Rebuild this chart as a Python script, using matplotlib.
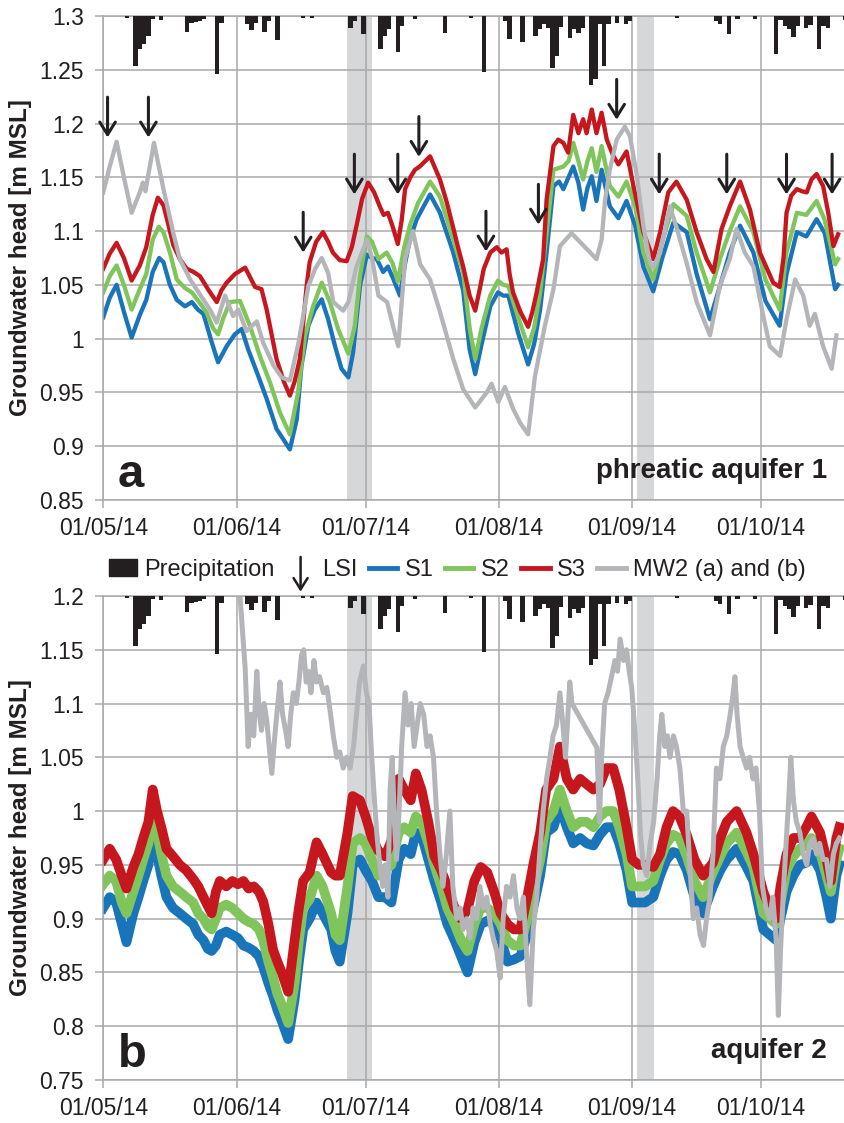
import numpy as np
import pandas as pd
import matplotlib
matplotlib.use("Agg")
import matplotlib.pyplot as plt
import matplotlib.dates as mdates
from matplotlib.lines import Line2D
from matplotlib.patches import Patch, FancyArrowPatch
from matplotlib.legend_handler import HandlerBase
from matplotlib.ticker import FuncFormatter, MultipleLocator

plt.rcParams['font.family'] = ['Liberation Sans', 'DejaVu Sans']

START = pd.Timestamp('2014-05-01')

# ---- daily precipitation [mm], day offset from 01/05/14 ----
rain_day = [5, 7, 8, 9, 10, 11, 13, 19, 20, 21, 22, 23, 26, 27, 33, 34, 35, 37, 38, 40,
            46, 48, 57, 58, 60, 64, 65, 66, 68, 69, 72, 79, 85, 88, 93, 94, 97, 100, 101,
            102, 103, 104, 105, 106, 108, 109, 110, 111, 113, 114, 115, 116, 117, 119, 121,
            122, 133, 142, 143, 145, 147, 151, 156, 157, 158, 159, 160, 161, 163, 164, 166,
            167, 168, 172]
rain_mm = [0.6, 14.5, 9.5, 8.0, 5.8, 1.0, 1.2, 4.6, 2.0, 1.7, 1.5, 1.0, 16.8, 2.0, 2.3, 4.0,
           2.0, 4.6, 1.5, 7.0, 0.6, 0.6, 3.5, 1.5, 5.2, 9.5, 5.8, 3.8, 10.4, 2.9, 0.9, 4.9,
           0.6, 16.2, 1.5, 6.6, 7.5, 5.8, 3.8, 2.3, 3.5, 15.0, 11.6, 3.2, 6.4, 3.8, 4.9, 3.5,
           20.0, 18.2, 2.3, 14.5, 2.3, 2.0, 2.3, 1.5, 0.6, 1.5, 2.3, 5.2, 1.0, 1.0, 11.0, 1.2,
           2.9, 3.8, 6.0, 2.9, 3.5, 2.6, 9.5, 2.9, 3.5, 1.2]

# ---- LSI events (day offset, head level at arrow tip) ----
lsi_day = [1.0, 10.5, 46.5, 58.4, 68.5, 73.4, 89.0, 101.2, 119.4, 129.3, 145.0, 158.9, 169.5]
lsi_level = [1.187, 1.187, 1.080, 1.134, 1.134, 1.169, 1.081, 1.106, 1.2035, 1.134, 1.134,
             1.134, 1.134]

# shaded periods (day offsets)
shade_periods = [(56.7, 62.5), (124.2, 128.1)]

# ---- (a) phreatic aquifer 1 ----
a_s1_day = [0, 1.5, 3.1, 4.8, 6.6, 8.5, 10, 11.5, 13, 14, 15.5, 17.1, 19, 20.6, 22, 23.3, 25.2,
            26.7, 28.7, 30.6, 32.2, 33.7, 35.7, 38, 40.3, 43.4, 45, 46.1, 47.7, 49.2, 50.8,
            52.3, 53.9, 55.4, 57, 58.1, 59.7, 61.3, 62.5, 63.6, 65.1, 66.2, 67.5, 69, 70.2,
            71.3, 72.9, 76, 78.3, 81.4, 83.7, 85.2, 86.5, 88, 90, 91.8, 93, 94.2, 96.5, 98.8,
            100.2, 101.6, 103.1, 104.7, 106, 107, 108.2, 109.3, 110.5, 111.6, 112.6, 113.6,
            114.7, 115.9, 117.8, 119.8, 121.7, 123.7, 125.6, 127.9, 130, 132.6, 135.7, 138,
            141.1, 143.5, 145.7, 148.1, 151.2, 154, 157.3, 158.9, 161.3, 163.5, 165.9, 167.8,
            170.2, 170.9]
a_s1 = [1.02, 1.038, 1.05, 1.025, 1.001, 1.022, 1.036, 1.062, 1.075, 1.071, 1.05, 1.036, 1.03,
        1.034, 1.027, 1.023, 0.997, 0.978, 0.993, 1.004, 1.009, 0.99, 0.969, 0.944, 0.916,
        0.897, 0.925, 0.975, 1.012, 1.027, 1.0365, 1.018, 0.993, 0.972, 0.964, 0.987, 1.049,
        1.078, 1.075, 1.074, 1.062, 1.067, 1.055, 1.04, 1.07, 1.092, 1.111, 1.134, 1.117, 1.08,
        1.045, 0.99, 0.967, 0.995, 1.03, 1.043, 1.04, 1.04, 1.005, 0.976, 0.995, 1.027, 1.08,
        1.142, 1.146, 1.139, 1.15, 1.16, 1.145, 1.12, 1.14, 1.151, 1.128, 1.157, 1.123, 1.112,
        1.128, 1.105, 1.067, 1.044, 1.075, 1.108, 1.099, 1.06, 1.018, 1.05, 1.08, 1.105, 1.08,
        1.035, 1.012, 1.06, 1.099, 1.095, 1.111, 1.098, 1.046, 1.05]

a_s2_day = [0, 1.5, 3.1, 4.8, 6.6, 8.5, 10, 11.5, 12.9, 14, 15.5, 17.1, 19, 20.6, 22.3, 24,
            25.5, 26.7, 28, 29.5, 31.8, 34.1, 36.4, 38.8, 41.1, 43.4, 45.3, 46.9, 48.8, 50.8,
            52.7, 54.6, 57, 58.5, 59.7, 61.3, 62.5, 64, 65.9, 67.3, 68.5, 70, 71.3, 73.2, 76,
            78.3, 81.4, 83.7, 85.2, 86.5, 88, 90, 91.8, 93, 94.2, 96.5, 98.8, 100.2, 101.6,
            103.1, 104.7, 107, 108.2, 109.3, 110.5, 111.6, 112.6, 113.6, 114.7, 115.9, 117.8,
            119.8, 121.7, 123.7, 125.6, 127.9, 130, 132.6, 135.7, 138, 141.1, 143.5, 145.7,
            148.1, 151.2, 154, 157.3, 158.9, 161.3, 163.5, 165.9, 167.8, 170.2, 170.9]
a_s2 = [1.043, 1.058, 1.068, 1.05, 1.027, 1.046, 1.06, 1.092, 1.104, 1.099, 1.08, 1.055,
        1.047, 1.043, 1.034, 1.0245, 1.01, 1.004, 1.02, 1.034, 1.035, 1.012, 0.984, 0.959,
        0.931, 0.911, 0.95, 1.0025, 1.03, 1.052, 1.034, 1.009, 0.986, 1.012, 1.058, 1.095,
        1.09, 1.074, 1.08, 1.07, 1.053, 1.085, 1.105, 1.126, 1.146, 1.132, 1.092, 1.062, 1.01,
        0.981, 1.01, 1.04, 1.054, 1.05, 1.049, 1.02, 0.992, 1.01, 1.043, 1.098, 1.157, 1.16,
        1.165, 1.182, 1.165, 1.148, 1.165, 1.177, 1.155, 1.179, 1.142, 1.132, 1.146, 1.123,
        1.08, 1.055, 1.09, 1.125, 1.114, 1.08, 1.043, 1.075, 1.1, 1.123, 1.099, 1.055, 1.027,
        1.08, 1.117, 1.115, 1.128, 1.11, 1.069, 1.074]

a_s3_day = [0, 1.5, 3.1, 4.8, 6.6, 8.5, 10, 11.5, 12.7, 14, 15.2, 16.3, 17.8, 19.4, 21, 22.5,
            24.5, 26.4, 27.5, 28.7, 30.6, 33, 35.3, 36.8, 38, 40.3, 42, 43.4, 44.5, 45.7, 47.3,
            48, 49.5, 51.1, 52.3, 53.4, 55, 56.6, 57.8, 58.9, 60.2, 61.6, 63, 64.3, 65.2, 66.2,
            67.4, 68.5, 69.4, 70.2, 71.4, 72.5, 73.6, 76, 78.3, 79.8, 81.3, 82.5, 83.7, 85.2,
            86.5, 87.5, 88.5, 90, 91.5, 92.6, 93.8, 94.5, 95.3, 97, 98.8, 99.8, 100.8, 102.3,
            103.1, 104.7, 105.8, 107, 108.1, 109.3, 110.5, 111.6, 112.4, 113.6, 114.7, 115.9,
            117.1, 118.6, 119.8, 121.7, 123.3, 125.6, 127.9, 129.5, 131.4, 133.3, 135.7, 138,
            140.3, 141.9, 143.8, 145.7, 148.1, 150.4, 152.7, 154.7, 155.8, 157.3, 158.2, 158.9,
            160, 161.3, 162.5, 163.6, 164.7, 165.9, 167.4, 168.6, 169.8, 170.9]
a_s3 = [1.065, 1.079, 1.089, 1.075, 1.054, 1.068, 1.085, 1.115, 1.131, 1.124, 1.105, 1.087,
        1.074, 1.065, 1.062, 1.058, 1.045, 1.034, 1.045, 1.052, 1.06, 1.066, 1.048, 1.046,
        1.027, 0.981, 0.96, 0.947, 0.96, 0.981, 1.049, 1.071, 1.09, 1.099, 1.09, 1.08, 1.073,
        1.072, 1.085, 1.105, 1.13, 1.145, 1.136, 1.123, 1.115, 1.117, 1.103, 1.088, 1.11,
        1.139, 1.15, 1.157, 1.16, 1.1695, 1.148, 1.128, 1.1045, 1.085, 1.067, 1.04, 1.026,
        1.045, 1.065, 1.08, 1.085, 1.08, 1.083, 1.06, 1.043, 1.025, 1.011, 1.025, 1.043,
        1.074, 1.129, 1.179, 1.185, 1.182, 1.173, 1.208, 1.191, 1.204, 1.191, 1.213, 1.191,
        1.21, 1.185, 1.17, 1.162, 1.174, 1.142, 1.099, 1.074, 1.099, 1.136, 1.146, 1.129,
        1.099, 1.074, 1.062, 1.102, 1.123, 1.146, 1.12, 1.08, 1.062, 1.052, 1.048, 1.075,
        1.117, 1.133, 1.139, 1.137, 1.136, 1.148, 1.153, 1.142, 1.117, 1.086, 1.097]

a_mw2_day = [0, 1.5, 3.1, 4.8, 6.6, 8.5, 9.2, 9.8, 11.8, 14, 16.3, 17.8, 20.2, 22.5, 24.8,
             26.4, 28.3, 30.2, 31.4, 33.3, 35.7, 37.2, 39.6, 41.5, 43.4, 45.4, 47.7, 49.3,
             50.8, 52.3, 53.5, 55.8, 57, 58.9, 61.3, 62.5, 64, 66, 67.5, 68.6, 70.2, 72, 73.7,
             76, 78.3, 81.4, 83.7, 86.5, 89.2, 90.3, 91.9, 93.4, 95.3, 96.9, 98.8, 100.4,
             102.7, 104.7, 106.2, 108.9, 114.7, 115.9, 116.7, 117.8, 119.4, 121.3, 122.5, 124,
             125.6, 127.1, 127.9, 129.5, 131.8, 133.7, 135.7, 138, 141.1, 143.4, 145.7, 147.3,
             149.2, 151.2, 153.5, 155, 157.4, 158.9, 160.9, 162.8, 164.3, 165.5, 167.4, 169.4,
             170.5]
a_mw2 = [1.136, 1.16, 1.183, 1.15, 1.117, 1.136, 1.145, 1.137, 1.182, 1.139, 1.098, 1.074,
         1.055, 1.041, 1.027, 1.015, 1.04, 1.021, 1.027, 1.007, 1.016, 0.996, 0.975, 0.964,
         0.961, 0.996, 1.049, 1.065, 1.075, 1.061, 1.034, 1.026, 1.034, 1.067, 1.092, 1.075,
         1.04, 1.034, 1.01, 0.993, 1.074, 1.1, 1.069, 1.055, 1.025, 0.981, 0.953, 0.936, 0.95,
         0.958, 0.941, 0.955, 0.935, 0.922, 0.911, 0.965, 1.012, 1.046, 1.086, 1.098, 1.074,
         1.092, 1.129, 1.157, 1.185, 1.197, 1.188, 1.154, 1.105, 1.071, 1.066, 1.08, 1.123,
         1.098, 1.07, 1.034, 1.003, 1.049, 1.074, 1.102, 1.08, 1.067, 1.021, 0.993, 0.984,
         1.018, 1.055, 1.04, 1.012, 1.023, 0.993, 0.972, 1.003]

# ---- (b) aquifer 2 ----
b_day = [0, 1.5, 3, 4.3, 5.4, 7, 8.2, 9.3, 10.5, 11.5, 12.5, 13.5, 14.7, 16.2, 17.8, 19.3, 20.9,
         22.1, 23.3, 24.3, 25.2, 26.2, 27.1, 28.6, 30, 31.3, 32.6, 33.8, 35, 36.2, 37.2, 38.4,
         39.5, 40.5, 41.5, 43, 44.5, 45.5, 46.5, 48, 49.6, 51, 53, 54, 55, 56.8, 58, 59.7, 61,
         62.5, 64, 65.5, 67, 68.7, 70, 71.5, 72.7, 74, 75.6, 77, 78.6, 80, 81.7, 83.2, 84.7,
         86.3, 87.8, 89.3, 90.9, 92.4, 94, 95.5, 97, 98.6, 100, 101.6, 103, 104.7, 106.2,
         107.8, 109.3, 110.9, 112.4, 114, 115.5, 117, 118.6, 120, 121.7, 123, 124.5, 126,
         127.9, 129.5, 131, 132.5, 134, 135.7, 137.5, 139.5, 141.8, 143.5, 145, 147.3, 149.6,
         151.2, 153.5, 155, 156.5, 157.5, 158.9, 160.5, 162, 163.5, 164.7, 166.7, 168.2,
         169.2, 170.5, 171.2]
b_s1 = [0.91, 0.92, 0.915, 0.895, 0.878, 0.905, 0.92, 0.935, 0.95, 0.98, 0.96, 0.94, 0.92,
        0.91, 0.905, 0.9, 0.895, 0.885, 0.88, 0.872, 0.87, 0.875, 0.885, 0.888, 0.885, 0.882,
        0.875, 0.873, 0.87, 0.865, 0.855, 0.84, 0.828, 0.815, 0.805, 0.788, 0.825, 0.86, 0.89,
        0.9, 0.915, 0.905, 0.89, 0.87, 0.86, 0.905, 0.95, 0.955, 0.945, 0.935, 0.92, 0.92,
        0.915, 0.955, 0.965, 0.96, 0.98, 0.978, 0.955, 0.935, 0.915, 0.895, 0.88, 0.865, 0.85,
        0.878, 0.895, 0.898, 0.895, 0.882, 0.86, 0.862, 0.865, 0.885, 0.91, 0.94, 0.98, 0.985,
        1.005, 0.985, 0.97, 0.975, 0.97, 0.968, 0.978, 0.985, 0.985, 0.97, 0.945, 0.915, 0.915,
        0.915, 0.92, 0.94, 0.955, 0.962, 0.96, 0.945, 0.92, 0.905, 0.93, 0.945, 0.955, 0.965,
        0.948, 0.935, 0.89, 0.885, 0.88, 0.9, 0.925, 0.94, 0.95, 0.952, 0.96, 0.945, 0.92,
        0.9, 0.94, 0.95]
b_s2 = [0.932, 0.94, 0.935, 0.915, 0.905, 0.925, 0.94, 0.955, 0.97, 1.0, 0.98, 0.96, 0.94,
        0.93, 0.925, 0.92, 0.915, 0.905, 0.9, 0.893, 0.89, 0.9, 0.91, 0.913, 0.91, 0.905, 0.9,
        0.897, 0.895, 0.89, 0.88, 0.86, 0.845, 0.83, 0.82, 0.803, 0.84, 0.88, 0.91, 0.918,
        0.94, 0.93, 0.905, 0.885, 0.88, 0.93, 0.97, 0.975, 0.97, 0.955, 0.94, 0.945, 0.95,
        0.98, 0.985, 0.98, 0.995, 0.99, 0.97, 0.95, 0.93, 0.91, 0.895, 0.88, 0.87, 0.895, 0.91,
        0.91, 0.905, 0.895, 0.88, 0.875, 0.875, 0.9, 0.925, 0.955, 0.99, 1.0, 1.02, 1.0, 0.985,
        0.99, 0.99, 0.985, 0.995, 1.0, 1.0, 0.985, 0.96, 0.93, 0.93, 0.93, 0.935, 0.955, 0.97,
        0.978, 0.975, 0.958, 0.935, 0.92, 0.943, 0.958, 0.97, 0.98, 0.962, 0.948, 0.905, 0.9,
        0.895, 0.915, 0.945, 0.958, 0.965, 0.968, 0.975, 0.962, 0.94, 0.925, 0.955, 0.965]
b_s3 = [0.955, 0.965, 0.955, 0.94, 0.928, 0.948, 0.96, 0.975, 0.99, 1.02, 1.0, 0.985, 0.965,
        0.958, 0.95, 0.945, 0.937, 0.93, 0.92, 0.912, 0.905, 0.925, 0.935, 0.93, 0.935, 0.932,
        0.935, 0.928, 0.93, 0.925, 0.916, 0.895, 0.871, 0.86, 0.85, 0.832, 0.88, 0.91, 0.935,
        0.943, 0.971, 0.96, 0.943, 0.94, 0.94, 0.98, 1.014, 1.01, 0.995, 0.975, 0.963, 0.958,
        0.972, 1.03, 1.02, 1.01, 1.035, 1.02, 0.99, 0.958, 0.945, 0.93, 0.91, 0.9, 0.908,
        0.935, 0.948, 0.943, 0.925, 0.905, 0.895, 0.89, 0.89, 0.92, 0.95, 0.98, 1.02, 1.03,
        1.06, 1.03, 1.02, 1.03, 1.025, 1.02, 1.025, 1.04, 1.04, 1.02, 0.985, 0.955, 0.95, 0.95,
        0.948, 0.96, 0.985, 1.0, 0.995, 0.978, 0.955, 0.94, 0.952, 0.975, 0.99, 1.0, 0.98,
        0.96, 0.925, 0.91, 0.9, 0.93, 0.96, 0.975, 0.975, 0.985, 0.995, 0.98, 0.955, 0.935,
        0.975, 0.985]

b_mw2_day = [31.0, 31.8, 33, 33.7, 34.3, 35, 35.7, 36.3, 36.8, 37.4, 38, 38.6, 39.2, 39.9, 40.6,
             41.1, 41.7, 42.4, 43, 43.6, 44.2, 44.9, 45.5, 46.1, 46.6, 47.2, 47.7, 48.3, 49,
             49.6, 50.3, 51.2, 52, 52.7, 53.5, 54.3, 55, 55.8, 56.6, 57.4, 58.2, 58.9, 59.6,
             60.5, 61.2, 61.8, 62.3, 62.9, 63.6, 64.3, 65, 65.6, 66.2, 66.7, 67.2, 67.7, 68.2,
             68.8, 69.4, 70.2, 70.9, 71.6, 72.3, 73, 73.7, 74.5, 75.3, 76, 76.8, 77.5, 78.3, 79,
             79.8, 80.6, 81.3, 82.2, 83, 83.7, 84.5, 85.3, 86, 86.8, 87.6, 88.4, 89.2, 90, 90.8,
             91.5, 92.3, 93, 93.8, 94.6, 95.4, 96.2, 96.9, 97.7, 98.4, 99.2, 100, 100.8, 101.5,
             102.3, 103.1, 103.9, 104.6, 105.4, 106.2, 106.9, 107.5, 108.5, 109, 114.8, 115.4,
             115.9, 116.6, 117.4, 118.2, 119, 119.6, 120.2, 121, 121.7, 122.3, 122.9, 123.7,
             124.3, 124.9, 125.6, 126.4, 127.2, 128, 128.8, 129.4, 129.9, 130.6, 131.2, 131.8,
             132.6, 133.3, 134.1, 134.9, 135.7, 136.4, 137.2, 138, 138.8, 139.6, 140.3, 141.1,
             141.8, 142.6, 143.4, 144.2, 145, 145.8, 146.5, 146.9, 147.4, 148.1, 148.8, 149.6,
             150.3, 151.1, 151.8, 152.6, 153.3, 154.1, 155, 155.7, 156.5, 157, 157.5, 158.1,
             158.8, 159.4, 159.9, 160.5, 161.2, 162, 162.8, 163.6, 164.3, 165.1, 165.9, 166.6,
             167.4, 168.2, 169, 169.8, 170.5, 171.2]
b_mw2 = [1.24, 1.2, 1.133, 1.06, 1.09, 1.07, 1.13, 1.09, 1.075, 1.1, 1.085, 1.06, 1.035, 1.07,
         1.1, 1.12, 1.09, 1.075, 1.06, 1.09, 1.11, 1.1, 1.12, 1.145, 1.15, 1.12, 1.13, 1.11,
         1.14, 1.12, 1.125, 1.11, 1.115, 1.095, 1.07, 1.05, 1.055, 1.04, 1.05, 1.04, 1.06,
         1.09, 1.12, 1.135, 1.11, 1.1, 1.06, 1.02, 0.98, 0.95, 0.93, 0.95, 0.92, 1.02, 1.05,
         0.99, 0.955, 1.0, 1.06, 1.11, 1.08, 1.1, 1.06, 1.08, 1.1, 1.09, 1.06, 1.07, 1.05, 1.0,
         0.96, 0.93, 0.96, 1.0, 0.93, 0.9, 0.91, 0.89, 0.9, 0.882, 0.91, 0.9, 0.93, 0.91, 0.92,
         0.895, 0.88, 0.87, 0.845, 0.9, 0.93, 0.92, 0.94, 0.91, 0.9, 0.92, 0.87, 0.82, 0.89,
         0.92, 0.96, 1.0, 1.03, 1.05, 1.07, 1.08, 1.11, 1.08, 1.05, 1.12, 1.1, 1.059, 0.99,
         1.05, 1.1, 1.11, 1.125, 1.14, 1.13, 1.16, 1.14, 1.15, 1.13, 1.115, 1.07, 1.03, 0.98,
         0.95, 0.94, 0.97, 0.99, 1.03, 1.07, 1.09, 1.06, 1.07, 1.05, 1.07, 1.06, 1.04, 1.0, 1.0,
         0.95, 0.9, 0.91, 0.885, 0.875, 0.9, 0.92, 0.96, 1.04, 1.03, 1.06, 1.07, 1.09, 1.11,
         1.125, 1.09, 1.06, 1.05, 1.04, 1.05, 1.03, 1.04, 1.0, 0.93, 0.91, 0.9, 0.92, 0.88,
         0.81, 0.87, 0.92, 0.97, 1.01, 1.05, 1.01, 0.99, 0.98, 0.96, 0.95, 0.97, 0.975, 0.96,
         0.97, 0.955, 0.955, 0.93, 0.96, 0.97, 0.975]

C_S1 = '#1a74ba'
C_S2 = '#80c55b'
C_S3 = '#c7171e'
C_MW2 = '#b4b5b9'
C_DARK = '#231f20'
C_GRID = '#a9a9a9'
C_SHADE = '#d6d7d9'

ARROW = '->,head_length=0.45,head_width=0.28'


def to_dates(days):
    return START + pd.to_timedelta(np.asarray(days, dtype=float), unit='D')


def head_fmt(v, pos):
    return '%g' % round(v, 2)


class HandlerArrow(HandlerBase):
    # draws the LSI symbol (a thin down arrow) in the legend
    def create_artists(self, legend, orig_handle, xdescent, ydescent, width, height,
                       fontsize, trans):
        x = 0.5 * width - xdescent
        arr = FancyArrowPatch((x, height * 1.15), (x, -height * 0.95), arrowstyle=ARROW,
                              mutation_scale=18, lw=1.8, color=C_DARK,
                              shrinkA=0, shrinkB=0, transform=trans)
        return [arr]


def setup_panel(ax, ylo, yhi, label, title):
    ax.set_xlim(START, START + pd.Timedelta(days=172.5))
    ax.set_ylim(ylo, yhi)
    ax.set_axisbelow(True)
    ax.grid(True, color=C_GRID, lw=1.1)
    ax.yaxis.set_major_locator(MultipleLocator(0.05))
    ax.yaxis.set_major_formatter(FuncFormatter(head_fmt))
    ax.xaxis.set_major_locator(mdates.MonthLocator(bymonthday=1))
    ax.xaxis.set_major_formatter(mdates.DateFormatter('%d/%m/%y'))
    ax.tick_params(axis='both', direction='out', length=6, width=1.1, color=C_GRID,
                   labelsize=16.5, labelcolor=C_DARK)
    ax.tick_params(axis='y', pad=8)
    ax.tick_params(axis='x', pad=6)
    ax.spines['right'].set_visible(False)
    for side in ['left', 'bottom', 'top']:
        ax.spines[side].set_color(C_GRID)
        ax.spines[side].set_linewidth(1.1)
    ax.set_ylabel('Groundwater head [m MSL]', fontsize=17.5, fontweight='bold', color=C_DARK,
                  labelpad=5)
    ax.text(0.02, 0.027, label, transform=ax.transAxes, fontsize=34, fontweight='bold',
            color=C_DARK, ha='left', va='baseline')
    ax.text(0.976, 0.045, title, transform=ax.transAxes, fontsize=20, fontweight='bold',
            color=C_DARK, ha='right', va='baseline')
    for d0, d1 in shade_periods:
        ax.axvspan(START + pd.Timedelta(days=d0), START + pd.Timedelta(days=d1),
                   color=C_SHADE, lw=0, zorder=0.2)
    # precipitation hangs from the top on its own reversed scale
    rain = ax.twinx()
    rain.bar(to_dates(rain_day), rain_mm, width=1.0, align='edge', color=C_DARK, lw=0)
    rain.set_ylim(140, 0)
    rain.set_xlim(ax.get_xlim())
    rain.axis('off')


fig = plt.figure(figsize=(8.45, 11.23), dpi=100)
ax_a = fig.add_axes([0.1222, 0.5548, 0.8778, 0.4310])
ax_b = fig.add_axes([0.1222, 0.0383, 0.8778, 0.4310])

# panel a
lw_a = 3.1
ax_a.plot(to_dates(a_s1_day), a_s1, color=C_S1, lw=lw_a, solid_joinstyle='round')
ax_a.plot(to_dates(a_s2_day), a_s2, color=C_S2, lw=lw_a, solid_joinstyle='round')
ax_a.plot(to_dates(a_s3_day), a_s3, color=C_S3, lw=lw_a, solid_joinstyle='round')
ax_a.plot(to_dates(a_mw2_day), a_mw2, color=C_MW2, lw=lw_a, solid_joinstyle='round')
for d, lev in zip(lsi_day, lsi_level):
    x = START + pd.Timedelta(days=d)
    ax_a.annotate('', xy=(x, lev), xytext=(0, 29), textcoords='offset points',
                  arrowprops=dict(arrowstyle=ARROW, lw=2.2, color=C_DARK,
                                  shrinkA=0, shrinkB=0, mutation_scale=20))
setup_panel(ax_a, 0.85, 1.3, 'a', 'phreatic aquifer 1')

# panel b
lw_b = 7.0
ax_b.plot(to_dates(b_day), b_s1, color=C_S1, lw=lw_b, solid_joinstyle='round')
ax_b.plot(to_dates(b_day), b_s2, color=C_S2, lw=lw_b, solid_joinstyle='round')
ax_b.plot(to_dates(b_day), b_s3, color=C_S3, lw=lw_b, solid_joinstyle='round')
ax_b.plot(to_dates(b_mw2_day), b_mw2, color=C_MW2, lw=3.6, solid_joinstyle='round')
setup_panel(ax_b, 0.75, 1.2, 'b', 'aquifer 2')

lsi_handle = object()
handles = [
    Patch(facecolor=C_DARK, edgecolor=C_DARK),
    lsi_handle,
    Line2D([], [], color=C_S1, lw=3.5),
    Line2D([], [], color=C_S2, lw=3.5),
    Line2D([], [], color=C_S3, lw=3.5),
    Line2D([], [], color=C_MW2, lw=3.5),
]
labels = ['Precipitation', 'LSI', 'S1', 'S2', 'S3', 'MW2 (a) and (b)']
fig.legend(handles, labels, loc='center', bbox_to_anchor=(0.541, 1 - 570 / 1123), ncol=6,
           frameon=False, fontsize=17, handlelength=1.2, handletextpad=0.3,
           columnspacing=0.5, labelcolor=C_DARK,
           handler_map={lsi_handle: HandlerArrow()})

fig.savefig('out.png', dpi=100)
